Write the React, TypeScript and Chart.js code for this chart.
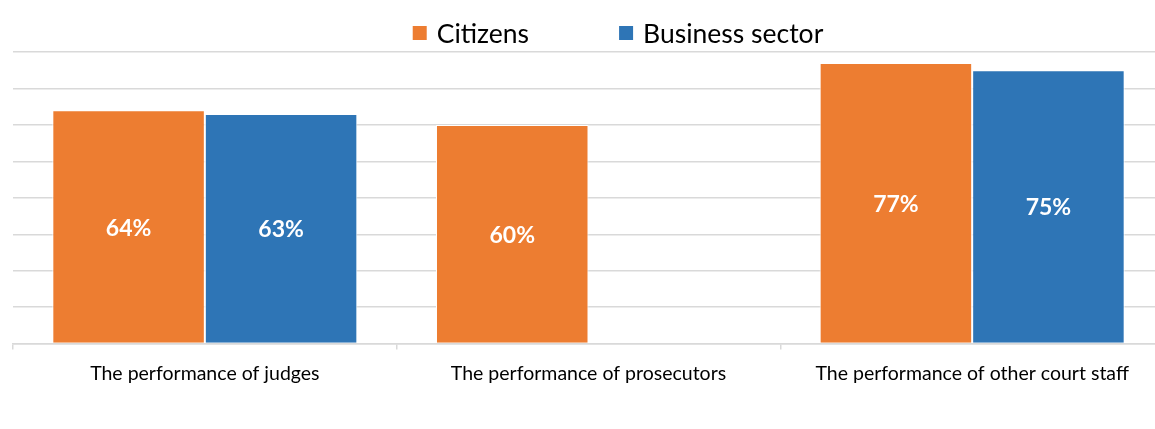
import React, { useEffect, useRef } from "react";
import { Chart, registerables } from "chart.js";

Chart.register(...registerables);

const categories = [
  "The performance of judges",
  "The performance of prosecutors",
  "The performance of other court staff",
];
const citizens = [64, 60, 77];
const business: (number | null)[] = [63, null, 75];
const seriesNames = ["Citizens", "Business sector"];
const seriesColors = ["#ED7D31", "#2E75B6"];
const yTicks = { min: 0, max: 80, step: 10 };

const FONT = "Lato, 'Open Sans', sans-serif";

const labelPlugin = {
  id: "barLabels",
  afterDatasetsDraw(chart: any) {
    const ctx = chart.ctx;
    ctx.save();
    ctx.fillStyle = "#ffffff";
    ctx.font = `bold 23px ${FONT}`;
    ctx.textAlign = "center";
    ctx.textBaseline = "middle";
    chart.data.datasets.forEach((ds: any, i: number) => {
      const meta = chart.getDatasetMeta(i);
      meta.data.forEach((bar: any, j: number) => {
        const v = ds.data[j];
        if (v == null) return;
        const { x, y, base } = bar.getProps(["x", "y", "base"], true);
        ctx.fillText(`${v}%`, x, (y + base) / 2 + 1.5);
      });
    });
    ctx.restore();
  },
};

const legendPlugin = {
  id: "customLegend",
  afterDraw(chart: any) {
    const ctx = chart.ctx;
    ctx.save();
    ctx.font = `26.5px ${FONT}`;
    ctx.textBaseline = "middle";
    ctx.textAlign = "left";
    const box = 14;
    const gapBoxText = 10;
    const gapItems = 90;
    const widths = chart.data.datasets.map(
      (ds: any) => box + gapBoxText + ctx.measureText(ds.label).width
    );
    const total =
      widths.reduce((a: number, b: number) => a + b, 0) +
      gapItems * (widths.length - 1);
    let x = 618 - total / 2;
    const cy = 33;
    chart.data.datasets.forEach((ds: any, i: number) => {
      ctx.fillStyle = ds.backgroundColor;
      ctx.fillRect(x, cy - box / 2, box, box);
      ctx.fillStyle = "#000000";
      ctx.fillText(ds.label, x + box + gapBoxText, cy + 1);
      x += widths[i] + gapItems;
    });
    ctx.restore();
  },
};

export default function App() {
  const ref = useRef<HTMLCanvasElement>(null);
  useEffect(() => {
    const chart = new Chart(ref.current!, {
      type: "bar",
      data: {
        labels: categories,
        datasets: [
          {
            label: seriesNames[0],
            data: citizens,
            backgroundColor: seriesColors[0],
            borderColor: "#ffffff",
            borderWidth: 1,
          },
          {
            label: seriesNames[1],
            data: business,
            backgroundColor: seriesColors[1],
            borderColor: "#ffffff",
            borderWidth: 1,
          },
        ],
      },
      options: {
        animation: false,
        responsive: false,
        maintainAspectRatio: false,
        datasets: { bar: { barPercentage: 1, categoryPercentage: 0.795 } },
        layout: { padding: { left: 13, right: 0, top: 52, bottom: 32 } },
        plugins: {
          legend: { display: false },
          tooltip: { enabled: false },
        },
        scales: {
          x: {
            grid: {
              offset: true,
              drawOnChartArea: false,
              drawTicks: true,
              tickLength: 6,
              color: "#d9d9d9",
              lineWidth: 1.5,
            },
            border: { color: "#d9d9d9", width: 1.5 },
            ticks: {
              font: { family: FONT, size: 19.5 },
              color: "#000000",
              padding: 12,
              maxRotation: 0,
            },
          },
          y: {
            min: yTicks.min,
            max: yTicks.max,
            ticks: { display: false, stepSize: yTicks.step },
            grid: { color: "#d9d9d9", lineWidth: 1.5, drawTicks: false },
            border: { display: false },
          },
        },
      },
      plugins: [labelPlugin, legendPlugin],
    });
    return () => chart.destroy();
  }, []);
  return (
    <div
      style={{
        position: "absolute",
        left: 0,
        top: 0,
        width: 1155,
        height: 429,
        overflow: "hidden",
        background: "#fff",
      }}
    >
      <canvas ref={ref} width={1164} height={429} style={{ display: "block" }} />
    </div>
  );
}
